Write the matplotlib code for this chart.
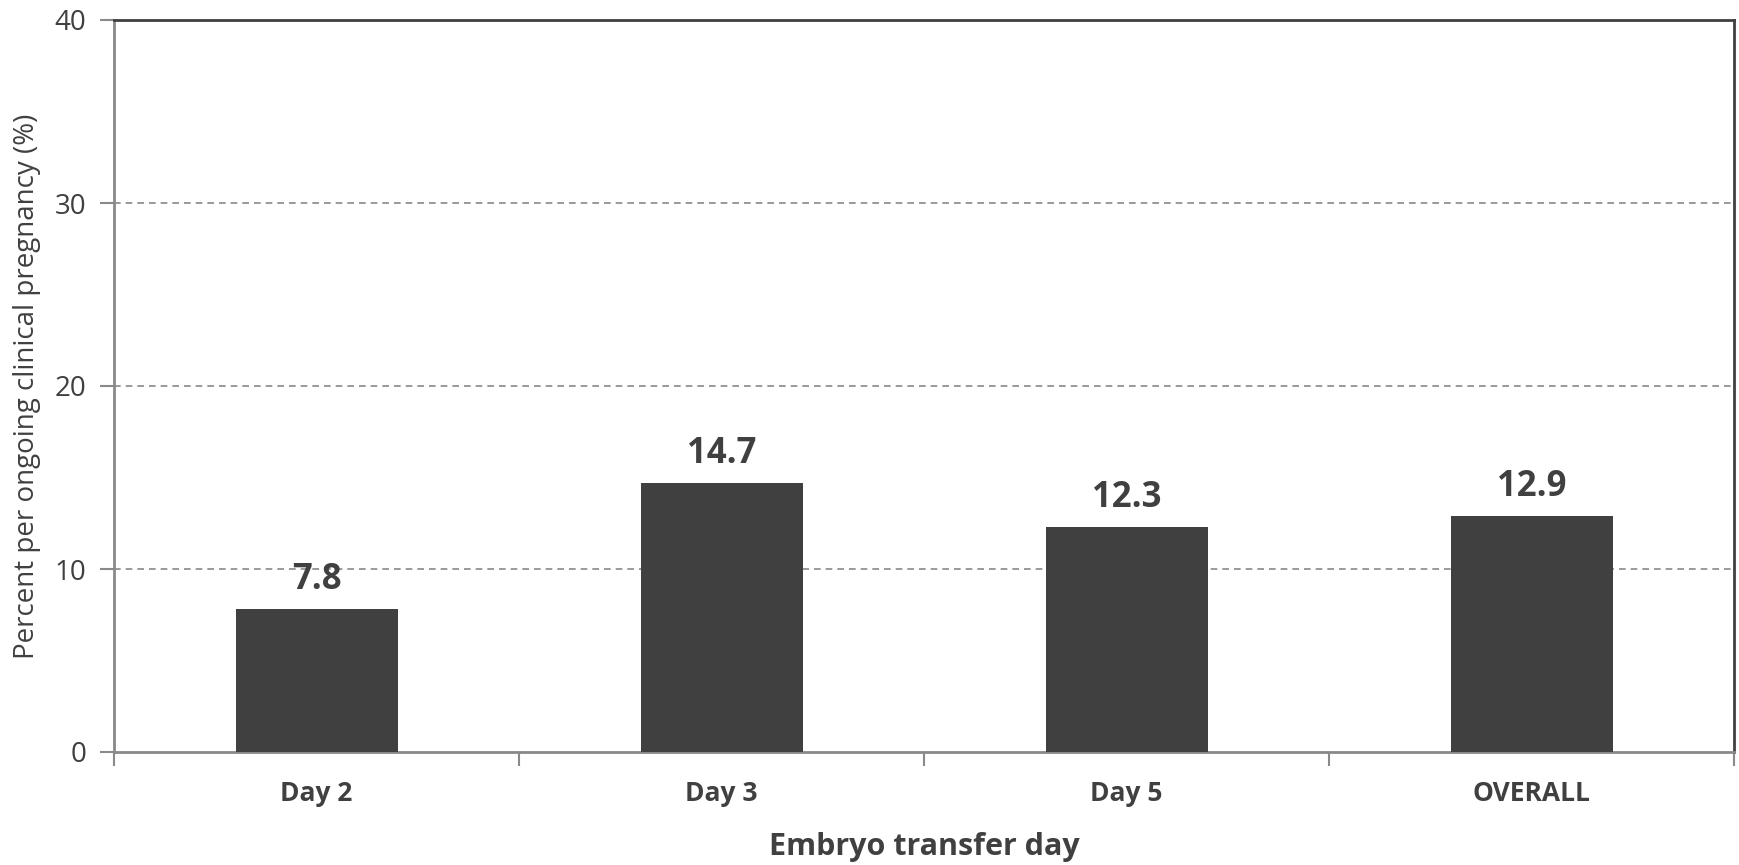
import matplotlib
matplotlib.use("Agg")
import matplotlib.pyplot as plt

categories = ["Day 2", "Day 3", "Day 5", "OVERALL"]
values = [7.8, 14.7, 12.3, 12.9]
yticks = [0, 10, 20, 30, 40]

TXT = "#404040"
plt.rcParams['font.family'] = ['Open Sans', 'DejaVu Sans']

fig = plt.figure(figsize=(17.39, 8.65), dpi=100)
ax = fig.add_axes([114/1739, 1-752/865, (1734-114)/1739, (752-20)/865])

x = list(range(len(categories)))
bars = ax.bar(x, values, width=0.4, color="#404040", zorder=3)
ax.set_xlim(-0.5, len(categories) - 0.5)
ax.set_ylim(0, 40)
ax.set_yticks(yticks)
ax.set_yticklabels([str(t) for t in yticks])
ax.tick_params(axis='y', labelsize=20, colors="#898989", labelcolor=TXT, length=10, width=1.5, pad=10, direction='out')
ax.set_xticks(x)
ax.set_xticklabels(categories, fontsize=19, fontweight='bold', color=TXT)
ax.tick_params(axis='x', length=0, pad=20)
ax.set_xticks([i + 0.5 for i in range(-1, len(categories))], minor=True)
ax.tick_params(axis='x', which='minor', length=10, width=1.5, color="#898989", direction='out')

for yv in [10, 20, 30]:
    ax.axhline(yv, color="#898989", linestyle=(0, (4, 3)), linewidth=1.2, zorder=1)

for s in ['left', 'bottom']:
    ax.spines[s].set_color("#898989")
    ax.spines[s].set_linewidth(2)
for s in ['top', 'right']:
    ax.spines[s].set_color("#404040")
    ax.spines[s].set_linewidth(2)

for xi, v in zip(x, values):
    ax.annotate(f"{v}", (xi, v), xytext=(0, 8), textcoords='offset points',
                ha='center', va='bottom', fontsize=25, fontweight='bold', color=TXT)

ax.set_ylabel("Percent per ongoing clinical pregnancy (%)", fontsize=20, color=TXT, labelpad=10)
ax.set_xlabel("Embryo transfer day", fontsize=22, fontweight='bold', color=TXT, labelpad=18)

fig.savefig("out.png", dpi=100)
